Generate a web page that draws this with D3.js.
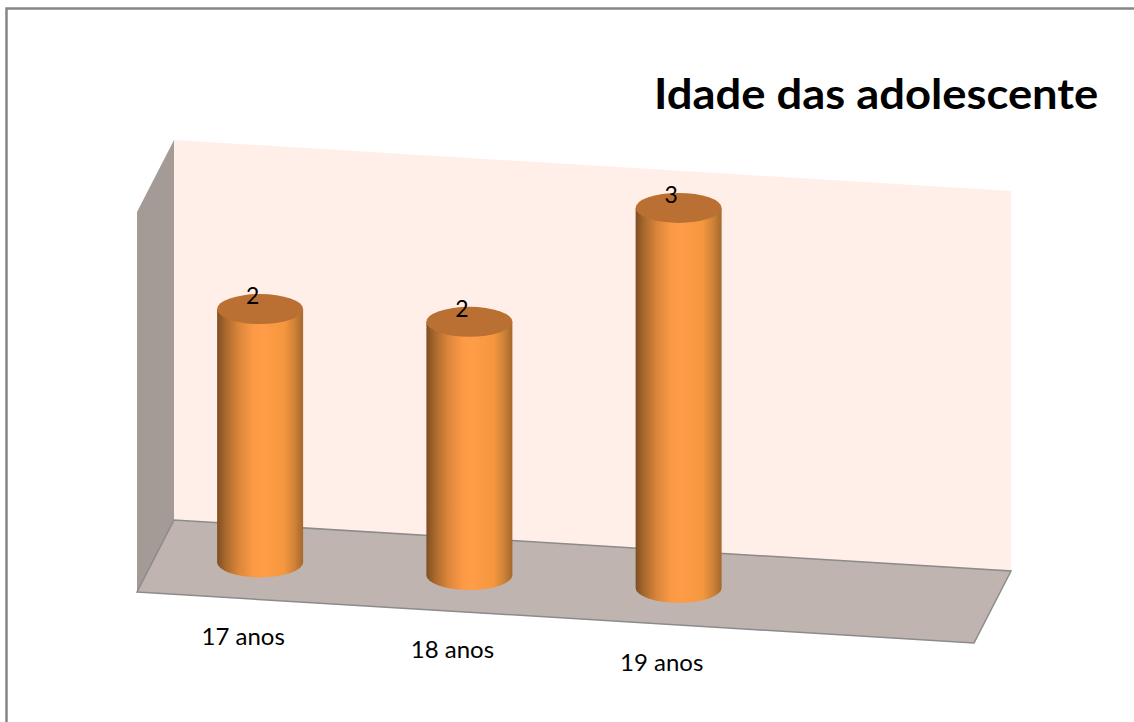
<!DOCTYPE html>
<html>
<head>
<meta charset="utf-8">
<script src="https://cdn.jsdelivr.net/npm/d3@7"></script>
<style>
    html, body { margin: 0; padding: 0; background: #fff; }
    svg { display: block; }
    text { font-family: Lato, "Open Sans", sans-serif; fill: #000; }
</style>
</head>
<body>
<div id="chart"></div>
<script>
// Idade das adolescente - 3D cylinder column chart

const categories = ['17 anos', '18 anos', '19 anos', ''];
const values = [2, 2, 3];
const yTicks = [0, 3];
const chartTitle = 'Idade das adolescente';

const W = 1134, H = 722;

// Oblique projection: front-left floor corner, depth vector, floor slope
const origin = { x: 137, y: 592 };
const depth = { x: 37, y: -72 };
const plotWidth = 837;
const slope = 51 / 837;

const xScale = d3.scaleBand().domain(d3.range(categories.length)).range([0, plotWidth]);
const yScale = d3.scaleLinear().domain(d3.extent(yTicks)).range([0, 380]);

// u along the x axis, d into the chart (0..1), v = height in pixels
function project(u, d, v) {
    return [
        origin.x + u + depth.x * d,
        origin.y + u * slope + depth.y * d - v
    ];
}

const svg = d3.select('#chart').append('svg')
    .attr('width', W)
    .attr('height', H);

const defs = svg.append('defs');

const cylGradient = defs.append('linearGradient')
    .attr('id', 'cyl-gradient')
    .attr('x1', '0%').attr('x2', '100%')
    .attr('y1', '0%').attr('y2', '0%');
[[0, '#7f4e23'], [0.1, '#a9692c'], [0.25, '#db853a'], [0.42, '#fb9a46'], [0.55, '#ff9c47'], [0.78, '#f5973f'], [0.9, '#cf8238'], [1, '#a5682d']]
    .forEach(s => cylGradient.append('stop').attr('offset', s[0]).attr('stop-color', s[1]));

// Chart frame, only left and top edges fall inside the picture
svg.append('path')
    .attr('d', `M6.5,${H}V8.5H${W}`)
    .attr('fill', 'none')
    .attr('stroke', '#868686')
    .attr('stroke-width', 2.5);

const line = d3.line();
const polygon = pts => line(pts) + 'Z';
const maxV = yScale(3);

// Back wall
svg.append('path')
    .attr('d', polygon([project(0, 1, 0), project(plotWidth, 1, 0), project(plotWidth, 1, maxV), project(0, 1, maxV)]))
    .attr('fill', '#ffefe8');

// Left wall
svg.append('path')
    .attr('d', polygon([project(0, 0, 0), project(0, 1, 0), project(0, 1, maxV), project(0, 0, maxV)]))
    .attr('fill', '#a49b96');

// Floor
svg.append('path')
    .attr('d', polygon([project(0, 0, 0), project(plotWidth, 0, 0), project(plotWidth, 1, 0), project(0, 1, 0)]))
    .attr('fill', '#bfb4af')
    .attr('stroke', '#8b8b8b')
    .attr('stroke-width', 1.5);

// Cylinders
const rx = 43, ry = 15;
const bars = svg.selectAll('.bar')
    .data(values)
    .enter()
    .append('g')
    .attr('class', 'bar');

bars.append('path')
    .attr('d', (d, i) => {
        const [cx, cy] = project(xScale(i) + xScale.bandwidth() / 2, 0.5, 0);
        const top = cy - yScale(d);
        return `M${cx - rx},${top}L${cx - rx},${cy}A${rx},${ry} 0 0 0 ${cx + rx},${cy}L${cx + rx},${top}Z`;
    })
    .attr('fill', 'url(#cyl-gradient)');

bars.append('ellipse')
    .attr('cx', (d, i) => project(xScale(i) + xScale.bandwidth() / 2, 0.5, 0)[0])
    .attr('cy', (d, i) => project(xScale(i) + xScale.bandwidth() / 2, 0.5, yScale(d))[1])
    .attr('rx', rx)
    .attr('ry', ry)
    .attr('fill', '#bb7033');

// Value labels
bars.append('text')
    .attr('x', (d, i) => project(xScale(i) + xScale.bandwidth() / 2, 0.5, 0)[0] - 7.5)
    .attr('y', (d, i) => project(xScale(i) + xScale.bandwidth() / 2, 0.5, yScale(d))[1] - 5)
    .attr('text-anchor', 'middle')
    .style('font-size', '23px')
    .text(d => d);

// Category labels
svg.selectAll('.cat-label')
    .data(categories.filter(c => c))
    .enter()
    .append('text')
    .attr('class', 'cat-label')
    .attr('x', (d, i) => project(xScale(i) + xScale.bandwidth() / 2, 0, 0)[0] + 1.5)
    .attr('y', (d, i) => project(xScale(i) + xScale.bandwidth() / 2, 0, 0)[1] + 47)
    .attr('text-anchor', 'middle')
    .style('font-size', '24px')
    .text(d => d);

// Title, stretched a little to fill the same width
svg.append('text')
    .attr('transform', 'translate(654,109) scale(1.08,1)')
    .style('font-size', '42px')
    .style('font-weight', '700')
    .text(chartTitle);
</script>
</body>
</html>
